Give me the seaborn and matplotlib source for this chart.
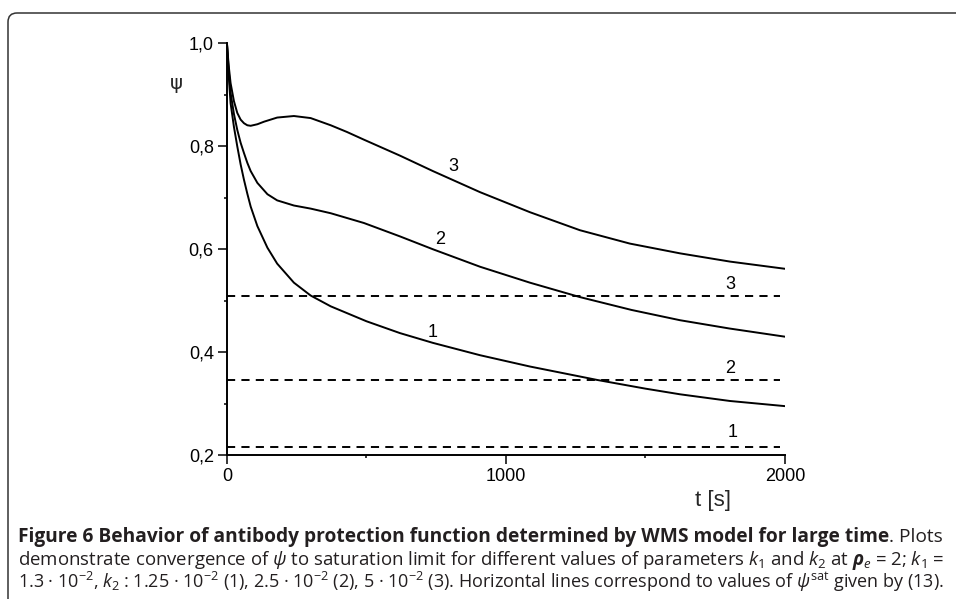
import matplotlib
matplotlib.use("Agg")
import matplotlib.pyplot as plt
import matplotlib.patches as mpatches
import matplotlib.transforms as mtrans
import pandas as pd
import seaborn as sns

# values
t1 = [0, 6, 13, 25, 37, 49, 61, 73, 85, 109, 145, 180, 240, 300, 372, 500, 620, 738, 907, 1086, 1326,
      1500, 1624, 1803, 2000]
psi1 = [1.0, 0.940, 0.884, 0.838, 0.800, 0.765, 0.735, 0.708, 0.683, 0.645, 0.603, 0.572, 0.535, 0.510,
        0.489, 0.460, 0.437, 0.418, 0.394, 0.372, 0.346, 0.329, 0.318, 0.305, 0.295]
t2 = [0, 6, 13, 25, 37, 49, 61, 73, 85, 109, 145, 180, 240, 300, 372, 491, 620, 738, 907, 1086, 1265,
      1450, 1624, 1800, 2000]
psi2 = [1.0, 0.950, 0.904, 0.863, 0.832, 0.807, 0.787, 0.768, 0.752, 0.729, 0.707, 0.695, 0.685, 0.679,
        0.670, 0.651, 0.625, 0.600, 0.566, 0.535, 0.507, 0.482, 0.462, 0.446, 0.430]
t3 = [0, 6, 13, 25, 37, 49, 61, 73, 85, 109, 133, 180, 240, 300, 372, 430, 491, 620, 738, 907, 1086,
      1265, 1444, 1624, 1803, 2000]
psi3 = [1.0, 0.958, 0.923, 0.888, 0.865, 0.852, 0.845, 0.841, 0.840, 0.843, 0.848, 0.856, 0.859, 0.855,
        0.841, 0.828, 0.813, 0.782, 0.752, 0.711, 0.672, 0.637, 0.611, 0.592, 0.576, 0.562]

curve_names = ["1", "2", "3"]
psi_sat = [0.216, 0.346, 0.509]
sat_t_end = 1982

curve_label_pos = [(738, 0.439), (763, 0.619), (810, 0.76)]
sat_label_pos = [(1814, 0.243), (1805, 0.369), (1803, 0.532)]

y_ticks = [0.2, 0.4, 0.6, 0.8, 1.0]
y_tick_labels = ["0,2", "0,4", "0,6", "0,8", "1,0"]
x_ticks = [0, 1000, 2000]
x_tick_labels = ["0", "1000", "2000"]

caption_bold = "Figure 6 Behavior of antibody protection function determined by WMS model for large time"
caption_rest = [
    ". Plots",
    r"demonstrate convergence of $\mathit{ψ}$ to saturation limit for different values of parameters "
    r"$\mathit{k}_1$ and $\mathit{k}_2$ at $\mathbfit{ρ}_{\mathit{e}}$ = 2; $\mathit{k}_1$ =",
    r"1.3 · 10$^{-2}$, $\mathit{k}_2$ : 1.25 · 10$^{-2}$ (1), 2.5 · 10$^{-2}$ (2), 5 · 10$^{-2}$ (3). "
    r"Horizontal lines correspond to values of $\mathit{ψ}^{\mathrm{sat}}$ given by (13).",
]

sns.set_theme(style="ticks")
plt.rcParams["font.family"] = ["Liberation Sans", "DejaVu Sans"]
plt.rcParams["mathtext.fontset"] = "custom"
plt.rcParams["mathtext.rm"] = "Open Sans"
plt.rcParams["mathtext.it"] = "Open Sans:italic"
plt.rcParams["mathtext.bf"] = "Open Sans:bold"
plt.rcParams["mathtext.bfit"] = "Open Sans:italic:bold"

df = pd.concat([
    pd.DataFrame({"t": t1, "psi": psi1, "curve": "1"}),
    pd.DataFrame({"t": t2, "psi": psi2, "curve": "2"}),
    pd.DataFrame({"t": t3, "psi": psi3, "curve": "3"}),
])

fig = plt.figure(figsize=(9.56, 5.99), dpi=100)
ax = fig.add_axes([0.2374, 0.2404, 0.5837, 0.6870])

sns.lineplot(data=df, x="t", y="psi", hue="curve", palette={c: "black" for c in curve_names},
             estimator=None, sort=False, linewidth=1.4, legend=False, ax=ax)
ax.hlines(psi_sat, 0, sat_t_end, colors="black", linestyles=(0, (4.2, 3.2)), linewidth=1.4)

for name, (x, y) in zip(curve_names, curve_label_pos):
    ax.text(x, y, name, fontsize=13, ha="center", va="center", color="black")
for name, (x, y) in zip(curve_names, sat_label_pos):
    ax.text(x, y, name, fontsize=13, ha="center", va="center", color="black")

ax.set_xlim(0, 2000)
ax.set_ylim(0.2, 1.0)
ax.set_xticks(x_ticks)
ax.set_xticklabels(x_tick_labels)
ax.set_yticks(y_ticks)
ax.set_yticklabels(y_tick_labels)
ax.set_xticks([500, 1500], minor=True)
ax.set_yticks([0.3, 0.5, 0.7, 0.9], minor=True)
ax.tick_params(which="major", length=6.5, width=1.1, labelsize=13, pad=3, colors="black")
ax.tick_params(which="minor", length=2.5, width=1.1, colors="black")
sns.despine(ax=ax)
for s in ["left", "bottom"]:
    ax.spines[s].set_linewidth(1.4)
    ax.spines[s].set_color("black")
ax.grid(False)

ax.set_ylabel("ψ", rotation=0, fontsize=14, family="DejaVu Sans")
ax.yaxis.set_label_coords(-0.0914, 0.879)
ax.set_xlabel("t [s]", fontsize=16)
ax.xaxis.set_label_coords(0.871, -0.085)

# rounded frame around figure + caption
frame = mpatches.FancyBboxPatch((8, -30), 1000, 616, boxstyle="round,pad=0,rounding_size=9",
                                transform=mtrans.IdentityTransform(), facecolor="none",
                                edgecolor="#333333", linewidth=1.1)
fig.add_artist(frame)

# caption: each line stretched to the same width as in the reference
cap_font = "Open Sans"
cap_color = "#231f20"
left_px, right_px = 18, 946
baselines = [542, 565, 588]
renderer = fig.canvas.get_renderer()
W = 956

bold = fig.text(left_px / W, 1 - baselines[0] / 599, caption_bold, family=cap_font, fontsize=13.6,
                fontweight="bold", va="baseline", color=cap_color)
bb = bold.get_window_extent(renderer)
plots = fig.text(bb.x1 / W, 1 - baselines[0] / 599, caption_rest[0], family=cap_font, fontsize=13.6,
                 va="baseline", color=cap_color)
for _ in range(2):
    total = plots.get_window_extent(renderer).x1 - left_px
    k = (right_px - left_px) / total
    bold.set_fontsize(bold.get_fontsize() * k)
    plots.set_fontsize(plots.get_fontsize() * k)
    plots.set_x(bold.get_window_extent(renderer).x1 / W)

for line, base in zip(caption_rest[1:], baselines[1:]):
    txt = fig.text(left_px / W, 1 - base / 599, line, family=cap_font, fontsize=12.5,
                   va="baseline", color=cap_color)
    for _ in range(2):
        w = txt.get_window_extent(renderer).width
        txt.set_fontsize(txt.get_fontsize() * (right_px - left_px) / w)

fig.savefig("out.png", dpi=100)
plt.close(fig)
